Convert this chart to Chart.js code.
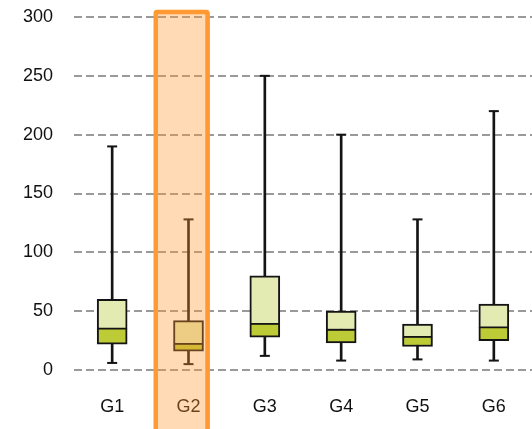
<!DOCTYPE html>
<html>
<head>
<meta charset="utf-8">
<script src="https://cdn.jsdelivr.net/npm/chart.js@4/dist/chart.umd.min.js"></script>
<style>
  html, body { margin: 0; padding: 0; background: #ffffff; }
  #wrap { width: 532px; height: 429px; }
</style>
</head>
<body>
<div id="wrap"><canvas id="c" width="532" height="429"></canvas></div>
<script>
const categories = ['G1', 'G2', 'G3', 'G4', 'G5', 'G6'];
const whiskerLow = [6, 5, 12, 8, 9, 8];
const q1 = [22, 16, 28, 23, 20, 25];
const median = [35, 22, 39, 34, 28, 36];
const q3 = [60, 42, 80, 50, 39, 56];
const whiskerHigh = [190, 128, 250, 200, 128, 220];
const yTicks = [0, 50, 100, 150, 200, 250, 300];
// highlight band around G2 (position in category units, 0..6; G2 spans 1..2)
const highlightCenter = [1.41];
const highlightRange = [-60, 306];

const INK = '#141414';

new Chart(document.getElementById('c'), {
  type: 'bar',
  data: {
    labels: categories,
    datasets: [
      {
        label: 'whisker',
        data: categories.map((_, i) => [whiskerLow[i], whiskerHigh[i]]),
        backgroundColor: INK,
        borderWidth: 0,
        barThickness: 2,
        grouped: false,
        order: 6
      },
      {
        label: 'lower',
        data: categories.map((_, i) => [q1[i], median[i]]),
        backgroundColor: '#BDCB36',
        borderColor: INK,
        borderWidth: { top: 1, bottom: 2, left: 2, right: 2 },
        borderSkipped: false,
        barThickness: 30,
        grouped: false,
        order: 5
      },
      {
        label: 'upper',
        data: categories.map((_, i) => [median[i], q3[i]]),
        backgroundColor: '#E3EAB2',
        borderColor: INK,
        borderWidth: { top: 2, bottom: 1.5, left: 2, right: 2 },
        borderSkipped: false,
        barThickness: 30,
        grouped: false,
        order: 4
      },
      {
        type: 'line',
        label: 'capLow',
        data: whiskerLow,
        showLine: false,
        pointStyle: 'line',
        pointRadius: 5,
        pointHoverRadius: 5,
        pointBorderWidth: 2,
        pointBorderColor: INK,
        order: 3
      },
      {
        type: 'line',
        label: 'capHigh',
        data: whiskerHigh,
        showLine: false,
        pointStyle: 'line',
        pointRadius: 5,
        pointHoverRadius: 5,
        pointBorderWidth: 2,
        pointBorderColor: INK,
        order: 2
      },
      {
        label: 'highlight',
        xAxisID: 'xb',
        data: highlightCenter.map(c => ({ x: c, y: highlightRange })),
        backgroundColor: 'rgba(255,153,51,0.36)',
        borderColor: '#FF9A33',
        borderWidth: { top: 4, left: 4, right: 4, bottom: 0 },
        borderSkipped: false,
        borderRadius: { topLeft: 4, topRight: 4, bottomLeft: 0, bottomRight: 0 },
        barThickness: 56,
        grouped: false,
        clip: false,
        order: 0
      }
    ]
  },
  options: {
    responsive: false,
    animation: false,
    events: [],
    layout: { autoPadding: false, padding: { top: 17, right: -2, bottom: 0, left: 0 } },
    plugins: { legend: { display: false }, tooltip: { enabled: false } },
    scales: {
      x: {
        grid: { display: false },
        border: { display: false },
        ticks: {
          color: '#111111',
          padding: 18,
          font: { family: 'Liberation Sans, Arial, sans-serif', size: 18 }
        },
        afterFit: (s) => { s.height = 59; s.paddingLeft = 0; s.paddingRight = 0; }
      },
      xb: {
        type: 'linear',
        axis: 'x',
        position: 'bottom',
        display: false,
        offset: false,
        min: 0,
        max: categories.length,
        grid: { display: false }
      },
      y: {
        min: 0,
        max: 300,
        afterBuildTicks: (s) => { s.ticks = yTicks.map(v => ({ value: v })); },
        grid: { color: '#9a9a9a', lineWidth: 2, drawTicks: false },
        border: { display: false, dash: [8, 4] },
        ticks: {
          color: '#111111',
          padding: 21,
          font: { family: 'Liberation Sans, Arial, sans-serif', size: 18 }
        },
        afterFit: (s) => { s.width = 74; s.paddingTop = 0; s.paddingBottom = 0; }
      }
    }
  }
});
</script>
</body>
</html>
